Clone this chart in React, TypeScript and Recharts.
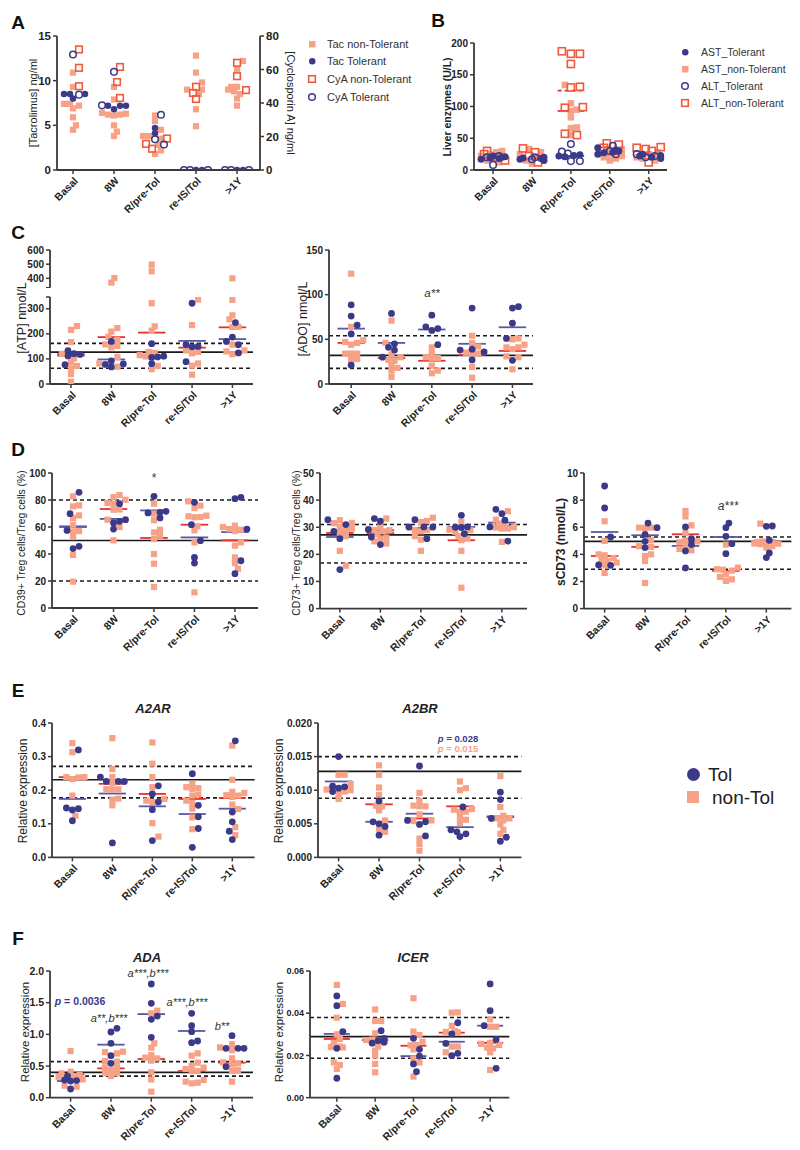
import React from 'react';
import { ScatterChart, Scatter, XAxis, YAxis, ReferenceLine } from 'recharts';

const CATS = ['Basal', '8W', 'R/pre-Tol', 're-IS/Tol', '>1Y'];

const NAVY = '#3b3a89';
const SALMON = '#f7a186';
const RED = '#e8302a';
const NAVY_LINE = '#5858a8';
const ORANGE = '#ef5a3d';
const AXIS = '#3a3a3a';
const INK = '#222';
const FONT = 'Arial, "Liberation Sans", Helvetica, sans-serif';

// ---- A: drug levels (Tac on left axis, CyA on right axis)
const aTacNonTol = [
  [10.9, 9.3, 7.4, 7.2, 7.4, 6.9, 5.9, 5.0, 4.5],
  [9.3, 7.9, 6.4, 6.2, 6.1, 6.2, 6.3, 5.0, 4.3, 3.8],
  [6.1, 5.5, 3.8, 3.8, 3.5, 4.5, 2.8, 2.2, 1.8],
  [12.8, 10.9, 9.8, 9.0, 9.0, 8.5, 6.8, 4.9],
  [12.2, 11.3, 9.3, 9.0, 8.8, 8.5, 8.0, 7.2, 9.3],
];
const aTacTol = [[8.5, 8.5, 8.0, 8.5], [6.8, 7.2, 7.2, 7.2], [4.1, 4.7], [0, 0], [0, 0]];
const aCyaNonTol = [[72, 61, 50], [61.5, 52.5, 43], [18.8, 12.7, 15.6], [49.7, 42.4, 46], [64, 56, 47.7]];
const aCyaTol = [[69, 45], [58.6, 38.6], [33, 15.2, 18.4], [0, 0, 0], [0, 0, 0]];

// ---- B: liver enzymes
const bAstTol = [[20, 18, 22, 19, 17, 21], [17, 18, 20, 15, 19], [24, 22, 21, 23], [30, 28, 25, 35, 32, 27], [25, 22, 20, 23, 18]];
const bAstNonTol = [
  [25, 28, 15, 22, 18, 12, 30, 20],
  [33, 28, 15, 10, 20, 25],
  [134, 105, 93, 83, 66, 67, 55, 95],
  [20, 25, 30, 22, 18, 15, 28, 33],
  [20, 15, 25, 28, 22, 18],
];
const bAltTol = [[8, 20, 22], [20, 17], [41, 29, 14, 14, 26], [38, 30, 25], [22, 20, 25]];
const bAltNonTol = [
  [30, 25, 15, 20],
  [28, 12, 22, 34],
  [187, 183, 183, 167, 131, 130, 98, 99, 55, 57],
  [40, 42, 30, 35],
  [35, 33, 36, 12, 30],
];
const bAstTolMid = [19, 18, 22, 27, 22];
const bAstNonTolMid = [18, 18, 93, 25, 22];
const bAltNonTolMid = [null, null, 125, null, null];

// ---- C: ATP / ADO
const atpTol = [[121, 112, 77, 118, 133], [170, 80, 78, 68, 92], [161, 81, 108, 106, 111], [322, 157, 148, 150, 89], [245, 187, 157, 170, 124]];
const atpNonTol = [
  [231, 216, 167, 120, 102, 86, 72, 61, 40, 9],
  [402, 370, 209, 223, 188, 176, 158, 152, 146, 108, 82, 69],
  [497, 450, 322, 230, 213, 124, 128, 115, 110, 72, 59],
  [337, 235, 134, 128, 122, 82, 73, 37],
  [400, 336, 274, 258, 228, 227, 157, 134, 130, 119],
];
const atpTolMid = [113, 98, 112, 172, 179];
const atpNonTolMid = [119, 187, 205, 145, 226];

const adoTol = [[88.6, 76, 66, 56, 21], [79, 45, 41, 38, 30], [77, 62, 60, 64, 44], [85, 38, 39, 36, 27], [86.6, 85, 68, 51, 26.5]];
const adoNonTol = [
  [123.5, 64, 49, 47, 44, 46, 34, 34, 34, 27, 28],
  [71, 46, 33, 30, 27, 26, 21, 18, 15, 8],
  [41, 35, 29, 29, 30, 20.5, 12, 15],
  [54, 46, 42, 35, 34, 19, 7, 33],
  [50, 51, 44, 39, 41, 41, 30, 31, 16.5],
];
const adoTolMid = [62, 46, 61, 45, 63.5];
const adoNonTolMid = [46, 29, 26, 32.5, 37];

// ---- D: CD39+, CD73+ Treg, sCD73
const d1Tol = [[85.7, 57.5, 69.9, 44, 45.7], [77.3, 64.2, 65.4, 58.5, 63], [82.7, 71.6, 70.9, 70.4, 66.7], [78.3, 61.7, 49.9, 37.5, 33.3], [81, 82, 58.5, 35, 25.4]];
const d1NonTol = [
  [82.7, 75.3, 76, 68.6, 66.7, 61.7, 56.8, 57, 52.6, 39.3, 19.5],
  [82.2, 83.7, 80.2, 77.3, 77.8, 72.8, 73, 65.4, 60, 50.1],
  [77.3, 69.9, 65, 58, 56, 53.6, 51.1, 40, 32.8, 15.6],
  [79, 75.8, 74, 67.9, 67.2, 67.4, 68.4, 57.5, 60.5, 48.6, 11.6],
  [60, 58.5, 58, 61, 57, 46.2, 48.6, 37.5, 33.3, 29.1],
];
const d1TolMid = [60.5, 66, 72.3, 52.3, 56.3];
const d1NonTolMid = [60, 73.3, 51.9, 61.7, 50.1];

const d2Tol = [[31, 32.8, 28.5, 25.8, 14.4], [33.2, 32.2, 29.2, 26.4, 23.6], [30.1, 32.8, 30.1, 30.1, 25.8], [34.4, 30.1, 29.9, 30, 27.6], [35, 36.6, 32.6, 30.1, 24.9]];
const d2NonTol = [
  [32.6, 31.6, 31.5, 29.5, 30.1, 28.9, 27.9, 26.7, 21.3, 15.8],
  [33.2, 28.9, 27.5, 29, 28.5, 25.8, 24, 24.8, 26.2, 29.9],
  [33.5, 32.3, 31.9, 28.9, 29, 28.5, 26.7, 25.4, 21.3],
  [31.9, 29.1, 26.7, 25.2, 28.3, 21.3, 7.7, 25.8, 28.9],
  [35.9, 32.8, 31.3, 29.9, 29.5, 30.3, 30, 24.6, 29.5],
];
const d2TolMid = [26.4, 28.9, 29.7, 30.1, 31.7];
const d2NonTolMid = [27.9, 27.9, 29.2, 25.2, 30.5];

const d3Tol = [[9.04, 7.42, 5.28, 3.19, 3.22], [6.31, 5.97, 5.48, 4.96, 4.5], [6.02, 5.16, 4.72, 4.25, 3.0], [6.31, 5.97, 5.33, 4.79, 4.05], [6.07, 6.09, 5.04, 4.1, 3.76]];
const d3NonTol = [
  [6.44, 4.99, 4.0, 3.93, 3.73, 3.6, 3.51, 3.4, 3.19, 2.63],
  [5.97, 5.95, 5.97, 5.04, 4.55, 4.6, 4.0, 3.88, 3.51, 1.89],
  [7.2, 6.8, 6.14, 5.58, 5.04, 4.96, 4.9, 4.67, 4.3, 4.4],
  [4.72, 3.02, 2.87, 2.9, 2.8, 2.33, 2.04, 2.16, 2.53],
  [6.27, 4.91, 4.79, 4.8, 4.75, 4.85, 4.95, 4.92, 4.5, 4.6],
];
const d3TolMid = [5.65, 5.41, 4.62, 5.28, 4.99];
const d3NonTolMid = [3.88, 4.55, 5.48, 2.78, 4.91];

// ---- E: A2AR / A2BR
const e1Tol = [[0.32, 0.145, 0.141, 0.147, 0.109], [0.239, 0.226, 0.226, 0.226, 0.043], [0.213, 0.189, 0.165, 0.142, 0.05], [0.249, 0.155, 0.121, 0.086, 0.03], [0.347, 0.135, 0.106, 0.078, 0.053]];
const e1NonTol = [
  [0.34, 0.313, 0.239, 0.238, 0.233, 0.239, 0.184, 0.124],
  [0.355, 0.263, 0.239, 0.221, 0.203, 0.202, 0.203, 0.172, 0.155, 0.175],
  [0.342, 0.279, 0.239, 0.209, 0.174, 0.169, 0.165, 0.102, 0.062],
  [0.219, 0.206, 0.204, 0.209, 0.184, 0.169, 0.162, 0.145, 0.119, 0.084, 0.187],
  [0.333, 0.231, 0.195, 0.192, 0.185, 0.184, 0.18, 0.144, 0.157, 0.09, 0.066],
];
const e1TolMid = [0.174, 0.19, 0.152, 0.129, 0.145];
const e1NonTolMid = [0.239, 0.219, 0.189, 0.174, 0.177];

const e2Tol = [[0.015, 0.0105, 0.0103, 0.0106, 0.0098], [0.0084, 0.0053, 0.0046, 0.005, 0.0033], [0.0136, 0.0053, 0.0055, 0.0049, 0.0032], [0.0075, 0.0038, 0.0031, 0.0035, 0.0041], [0.0097, 0.0086, 0.0058, 0.003, 0.0024]];
const e2NonTol = [
  [0.0123, 0.0123, 0.0109, 0.0101, 0.0098, 0.01, 0.0095, 0.0087],
  [0.0137, 0.0123, 0.0104, 0.0093, 0.007, 0.0055, 0.0042, 0.0038, 0.0076, 0.0077],
  [0.0096, 0.0084, 0.0076, 0.0077, 0.0076, 0.0064, 0.0054, 0.0055, 0.0028, 0.002, 0.001],
  [0.0113, 0.0103, 0.01, 0.0068, 0.0071, 0.0068, 0.006, 0.0056, 0.0051, 0.0072],
  [0.0121, 0.0075, 0.0062, 0.0058, 0.0055, 0.0058, 0.0049, 0.0035, 0.0041],
];
const e2TolMid = [0.0113, 0.0053, 0.0065, 0.0045, 0.0061];
const e2NonTolMid = [0.0103, 0.0079, 0.0058, 0.0076, 0.006];

// ---- F: ADA / ICER
const f1Tol = [[0.137, 0.263, 0.279, 0.342, 0.27], [1.095, 1.037, 0.858, 0.663, 0.542], [1.795, 1.489, 1.289, 1.237, 0.953], [1.332, 1.137, 1.042, 0.868, 0.895], [0.979, 0.779, 0.779, 0.779, 0.49]];
const f1NonTol = [
  [0.737, 0.384, 0.41, 0.342, 0.289, 0.19, 0.174, 0.33, 0.36],
  [0.7, 0.726, 0.72, 0.568, 0.58, 0.437, 0.479, 0.47, 0.384, 0.342, 0.39],
  [1.374, 1.332, 0.79, 0.858, 0.674, 0.632, 0.584, 0.4, 0.289, 0.095, 0.62],
  [0.7, 0.663, 0.553, 0.5, 0.453, 0.421, 0.474, 0.253, 0.226, 0.237, 0.279, 0.42],
  [0.795, 0.842, 0.526, 0.558, 0.621, 0.542, 0.426, 0.437, 0.253, 0.75],
];
const f1TolMid = [0.263, 0.837, 1.32, 1.053, 0.763];
const f1NonTolMid = [0.368, 0.463, 0.61, 0.421, 0.553];

const f2Tol = [[0.0482, 0.0436, 0.0313, 0.0234, 0.0092], [0.0317, 0.0281, 0.0262, 0.0258, 0.027], [0.0281, 0.0229, 0.0197, 0.016, 0.0123], [0.0355, 0.0302, 0.0257, 0.0199, 0.021], [0.0539, 0.0412, 0.0341, 0.0276, 0.0139]];
const f2NonTol = [
  [0.0534, 0.0444, 0.0379, 0.03, 0.0278, 0.0238, 0.0242, 0.024, 0.026, 0.0167, 0.0155, 0.0136],
  [0.0418, 0.0363, 0.0363, 0.0305, 0.0273, 0.0275, 0.0242, 0.0199, 0.0223, 0.016, 0.012],
  [0.0471, 0.0313, 0.0297, 0.0265, 0.025, 0.0248, 0.0229, 0.0186, 0.0167, 0.01],
  [0.0403, 0.0404, 0.034, 0.031, 0.0316, 0.0312, 0.0242, 0.0242, 0.0215],
  [0.0371, 0.0336, 0.0336, 0.025, 0.0234, 0.026, 0.0237, 0.0255, 0.0215, 0.0131],
];
const f2TolMid = [0.0302, 0.0273, 0.0197, 0.0265, 0.0341];
const f2NonTolMid = [0.0278, 0.0273, 0.0246, 0.0308, 0.026];

type Marker = 'dot' | 'square' | 'ring' | 'box';

interface SeriesDef {
  values: number[][];
  marker: Marker;
  color: string;
  size: number;
  axis?: 'l' | 'r';
  mid?: (number | null)[];
  midColor?: string;
  midDash?: string;
}

interface PanelDef {
  L: number;
  R: number;
  T: number;
  B: number;
  xDomain: [number, number];
  yDomain: [number, number];
  yTicks: number[];
  yFormat?: (v: number) => string;
  rDomain?: [number, number];
  rTicks?: number[];
  series: SeriesDef[];
  refs?: { y: number; dashed?: boolean }[];
  hideX?: boolean;
  tickFont?: number;
}

// beeswarm-like spread of each column so markers sit side by side
function layoutPoints(p: PanelDef) {
  const plotH = p.B - p.T;
  const unitPx = (p.R - p.L) / (p.xDomain[1] - p.xDomain[0]);
  const out: { x: number; y: number }[][] = p.series.map(() => []);
  for (let c = 0; c < CATS.length; c++) {
    const items: { si: number; v: number; py: number; r: number }[] = [];
    p.series.forEach((s, si) => {
      const dom = s.axis === 'r' && p.rDomain ? p.rDomain : p.yDomain;
      (s.values[c] || []).forEach((v) =>
        items.push({ si, v, py: ((v - dom[0]) / (dom[1] - dom[0])) * plotH, r: s.size / 2 })
      );
    });
    items.sort((a, b) => a.py - b.py);
    const placed: { px: number; py: number; r: number }[] = [];
    const step = 3;
    const maxOff = unitPx * 0.31;
    for (const it of items) {
      let best = 0;
      let bestGap = -Infinity;
      for (let k = 0; k < 40; k++) {
        const off = (k % 2 === 1 ? 1 : -1) * Math.ceil(k / 2) * step;
        if (Math.abs(off) > maxOff) break;
        let gap = Infinity;
        for (const q of placed) {
          const d = Math.hypot(q.px - off, q.py - it.py) - (q.r + it.r) * 0.8;
          if (d < gap) gap = d;
        }
        if (gap >= 0) {
          best = off;
          bestGap = gap;
          break;
        }
        if (gap > bestGap) {
          bestGap = gap;
          best = off;
        }
      }
      placed.push({ px: best, py: it.py, r: it.r });
      out[it.si].push({ x: c + best / unitPx, y: it.v });
    }
  }
  return out;
}

function makeShape(s: SeriesDef) {
  const h = s.size / 2;
  return (props: any) => {
    const { cx, cy } = props;
    if (cx == null || cy == null) return <g />;
    if (s.marker === 'dot') return <circle cx={cx} cy={cy} r={h} fill={s.color} />;
    if (s.marker === 'square') return <rect x={cx - h} y={cy - h} width={s.size} height={s.size} fill={s.color} />;
    if (s.marker === 'ring') return <circle cx={cx} cy={cy} r={h - 0.7} fill="none" stroke={s.color} strokeWidth={1.5} />;
    return <rect x={cx - h + 0.7} y={cy - h + 0.7} width={s.size - 1.4} height={s.size - 1.4} fill="none" stroke={s.color} strokeWidth={1.6} />;
  };
}

const XTick = (props: any) => {
  const { x, y, payload } = props;
  return (
    <text
      transform={`translate(${x + 3},${y + 3}) rotate(-45)`}
      textAnchor="end"
      dy="0.35em"
      fontSize={10.5}
      fontWeight={700}
      fill={INK}
      fontFamily={FONT}
    >
      {CATS[payload.value]}
    </text>
  );
};

function Panel({ p }: { p: PanelDef }) {
  const YW = 40;
  const RW = p.rDomain ? 30 : 0;
  const MT = 6;
  const MR = 4;
  const XH = p.hideX ? 0 : 60;
  const w = YW + (p.R - p.L) + RW + MR;
  const h = MT + (p.B - p.T) + XH;
  const pts = layoutPoints(p);
  const tickStyle = { fontSize: p.tickFont ?? 10.5, fontWeight: 700, fill: INK, fontFamily: FONT };
  const fmt = (v: number) => (p.yFormat ? p.yFormat(v) : String(v));
  const axisLine = { stroke: AXIS, strokeWidth: 1.8 };
  const tickLine = { stroke: AXIS, strokeWidth: 1.5 };
  return (
    <div style={{ position: 'absolute', left: p.L - YW, top: p.T - MT }}>
      <ScatterChart width={w} height={h} margin={{ top: MT, right: MR, bottom: 0, left: 0 }}>
        <XAxis
          type="number"
          dataKey="x"
          domain={p.xDomain}
          ticks={[0, 1, 2, 3, 4]}
          interval={0}
          allowDataOverflow
          hide={p.hideX}
          height={XH}
          axisLine={axisLine}
          tickLine={tickLine}
          tickSize={4}
          tick={<XTick />}
        />
        <YAxis
          yAxisId="l"
          type="number"
          dataKey="y"
          domain={p.yDomain}
          ticks={p.yTicks}
          interval={0}
          allowDataOverflow
          width={YW}
          axisLine={axisLine}
          tickLine={tickLine}
          tickSize={4}
          tick={tickStyle}
          tickFormatter={fmt}
        />
        {p.rDomain && (
          <YAxis
            yAxisId="r"
            orientation="right"
            type="number"
            dataKey="y"
            domain={p.rDomain}
            ticks={p.rTicks}
            interval={0}
            allowDataOverflow
            width={RW}
            axisLine={axisLine}
            tickLine={tickLine}
            tickSize={4}
            tick={tickStyle}
          />
        )}
        {(p.refs || []).map((r, i) => (
          <ReferenceLine
            key={'ref' + i}
            yAxisId="l"
            y={r.y}
            stroke="#1a1a1a"
            strokeWidth={1.6}
            strokeDasharray={r.dashed ? '4 3' : undefined}
          />
        ))}
        {p.series.map((s, si) => (
          <Scatter
            key={'s' + si}
            yAxisId={s.axis || 'l'}
            data={pts[si]}
            shape={makeShape(s)}
            isAnimationActive={false}
          />
        ))}
        {p.series.map((s, si) =>
          (s.mid || []).map((m, c) =>
            m == null ? null : (
              <ReferenceLine
                key={`m${si}-${c}`}
                yAxisId={s.axis || 'l'}
                segment={[
                  { x: c - 0.34, y: m },
                  { x: c + 0.34, y: m },
                ]}
                stroke={s.midColor}
                strokeWidth={1.8}
                strokeDasharray={s.midDash}
              />
            )
          )
        )}
      </ScatterChart>
    </div>
  );
}

const tol = (values: number[][], mid?: (number | null)[]): SeriesDef => ({
  values,
  marker: 'dot',
  color: NAVY,
  size: 6.8,
  mid,
  midColor: NAVY_LINE,
});
const nonTol = (values: number[][], mid?: (number | null)[]): SeriesDef => ({
  values,
  marker: 'square',
  color: SALMON,
  size: 6.2,
  mid,
  midColor: RED,
});

const ATP_BREAK_LO = 347;
const ATP_BREAK_HI = 334;

const PANELS: PanelDef[] = [
  {
    L: 57, R: 260, T: 36, B: 170, xDomain: [-0.39, 4.56],
    yDomain: [0, 15], yTicks: [0, 5, 10, 15], rDomain: [0, 80], rTicks: [0, 20, 40, 60, 80], tickFont: 11.5,
    series: [
      { values: aTacNonTol, marker: 'square', color: SALMON, size: 6.2 },
      { values: aCyaNonTol, marker: 'box', color: ORANGE, size: 8, axis: 'r' },
      { values: aTacTol, marker: 'dot', color: NAVY, size: 6.5 },
      { values: aCyaTol, marker: 'ring', color: NAVY, size: 8, axis: 'r' },
    ],
  },
  {
    L: 474, R: 667, T: 43, B: 170, xDomain: [-0.49, 4.47],
    yDomain: [0, 200], yTicks: [0, 50, 100, 150, 200], tickFont: 10,
    series: [
      { values: bAstNonTol, marker: 'square', color: SALMON, size: 6.5, mid: bAstNonTolMid, midColor: RED },
      { values: bAltNonTol, marker: 'box', color: ORANGE, size: 8.5, mid: bAltNonTolMid, midColor: RED, midDash: '4 3' },
      { values: bAstTol, marker: 'dot', color: NAVY, size: 7, mid: bAstTolMid, midColor: NAVY_LINE },
      { values: bAltTol, marker: 'ring', color: NAVY, size: 8 },
    ],
  },
  {
    L: 50, R: 253, T: 250, B: 287.7, xDomain: [-0.52, 4.51], hideX: true,
    yDomain: [ATP_BREAK_HI, 600], yTicks: [ATP_BREAK_HI, 400, 500, 600], tickFont: 10,
    yFormat: (v) => (v === ATP_BREAK_HI ? '' : String(v)),
    series: [
      nonTol(atpNonTol.map((g) => g.filter((v) => v > ATP_BREAK_LO))),
      tol(atpTol.map((g) => g.filter((v) => v > ATP_BREAK_LO))),
    ],
  },
  {
    L: 50, R: 253, T: 297.3, B: 384.3, xDomain: [-0.52, 4.51],
    yDomain: [0, ATP_BREAK_LO], yTicks: [0, 100, 200, 300, ATP_BREAK_LO], tickFont: 10,
    yFormat: (v) => (v === ATP_BREAK_LO ? '' : String(v)),
    refs: [{ y: 162, dashed: true }, { y: 63, dashed: true }, { y: 127 }],
    series: [
      nonTol(atpNonTol.map((g) => g.filter((v) => v <= ATP_BREAK_LO)), atpNonTolMid),
      tol(atpTol.map((g) => g.filter((v) => v <= ATP_BREAK_LO)), atpTolMid),
    ],
  },
  {
    L: 329, R: 533, T: 250, B: 384, xDomain: [-0.55, 4.51],
    yDomain: [0, 150], yTicks: [0, 50, 100, 150], tickFont: 10,
    refs: [{ y: 54, dashed: true }, { y: 17.5, dashed: true }, { y: 32 }],
    series: [nonTol(adoNonTol, adoNonTolMid), tol(adoTol, adoTolMid)],
  },
  {
    L: 52, R: 258, T: 473.3, B: 608.3, xDomain: [-0.52, 4.57],
    yDomain: [0, 100], yTicks: [0, 20, 40, 60, 80, 100], tickFont: 10,
    refs: [{ y: 80, dashed: true }, { y: 20, dashed: true }, { y: 50 }],
    series: [nonTol(d1NonTol, d1NonTolMid), tol(d1Tol, d1TolMid)],
  },
  {
    L: 320, R: 527, T: 472.7, B: 608.3, xDomain: [-0.49, 4.62],
    yDomain: [0, 50], yTicks: [0, 10, 20, 30, 40, 50], tickFont: 10,
    refs: [{ y: 31, dashed: true }, { y: 16.8, dashed: true }, { y: 27.2 }],
    series: [nonTol(d2NonTol, d2NonTolMid), tol(d2Tol, d2TolMid)],
  },
  {
    L: 584.3, R: 791.7, T: 472.7, B: 608.3, xDomain: [-0.51, 4.62],
    yDomain: [0, 10], yTicks: [0, 2, 4, 6, 8, 10], tickFont: 10,
    refs: [{ y: 5.28, dashed: true }, { y: 2.9, dashed: true }, { y: 4.96 }],
    series: [nonTol(d3NonTol, d3NonTolMid), tol(d3Tol, d3TolMid)],
  },
  {
    L: 52.3, R: 255, T: 723.3, B: 857.7, xDomain: [-0.51, 4.56],
    yDomain: [0, 0.4], yTicks: [0, 0.1, 0.2, 0.3, 0.4], tickFont: 10,
    yFormat: (v) => v.toFixed(1),
    refs: [{ y: 0.271, dashed: true }, { y: 0.177, dashed: true }, { y: 0.231 }],
    series: [nonTol(e1NonTol, e1NonTolMid), tol(e1Tol, e1TolMid)],
  },
  {
    L: 318.3, R: 521.7, T: 723.3, B: 857.7, xDomain: [-0.51, 4.52],
    yDomain: [0, 0.02], yTicks: [0, 0.005, 0.01, 0.015, 0.02], tickFont: 10,
    yFormat: (v) => v.toFixed(3),
    refs: [{ y: 0.015, dashed: true }, { y: 0.0088, dashed: true }, { y: 0.0128 }],
    series: [nonTol(e2NonTol, e2NonTolMid), tol(e2Tol, e2TolMid)],
  },
  {
    L: 50, R: 253, T: 971, B: 1097.7, xDomain: [-0.51, 4.52],
    yDomain: [0, 2], yTicks: [0, 0.5, 1, 1.5, 2], tickFont: 10.5,
    yFormat: (v) => v.toFixed(1),
    refs: [{ y: 0.57, dashed: true }, { y: 0.34, dashed: true }, { y: 0.4 }],
    series: [nonTol(f1NonTol, f1NonTolMid), tol(f1Tol, f1TolMid)],
  },
  {
    L: 310, R: 509.3, T: 971, B: 1097.7, xDomain: [-0.7, 4.5],
    yDomain: [0, 0.06], yTicks: [0, 0.02, 0.04, 0.06], tickFont: 9,
    yFormat: (v) => v.toFixed(2),
    refs: [{ y: 0.038, dashed: true }, { y: 0.0187, dashed: true }, { y: 0.0289 }],
    series: [nonTol(f2NonTol, f2NonTolMid), tol(f2Tol, f2TolMid)],
  },
];

function Txt({
  x, y, children, size = 11, weight = 400, italic = false, color = INK, rot = 0, anchor = 'center',
}: {
  x: number; y: number; children: React.ReactNode; size?: number; weight?: number; italic?: boolean;
  color?: string; rot?: number; anchor?: 'center' | 'left';
}) {
  const tx = anchor === 'center' ? '-50%' : '0';
  return (
    <div
      style={{
        position: 'absolute',
        left: x,
        top: y,
        transform: `translate(${tx},-50%) rotate(${rot}deg)`,
        whiteSpace: 'nowrap',
        fontSize: size,
        fontWeight: weight,
        fontStyle: italic ? 'italic' : 'normal',
        color,
        fontFamily: FONT,
        lineHeight: 1,
      }}
    >
      {children}
    </div>
  );
}

function LegendMark({ x, y, marker, color, size }: { x: number; y: number; marker: Marker; color: string; size: number }) {
  const h = size / 2;
  return (
    <svg style={{ position: 'absolute', left: x - h - 1, top: y - h - 1 }} width={size + 2} height={size + 2}>
      {marker === 'dot' && <circle cx={h + 1} cy={h + 1} r={h} fill={color} />}
      {marker === 'square' && <rect x={1} y={1} width={size} height={size} fill={color} />}
      {marker === 'ring' && <circle cx={h + 1} cy={h + 1} r={h - 0.7} fill="none" stroke={color} strokeWidth={1.5} />}
      {marker === 'box' && <rect x={1.7} y={1.7} width={size - 1.4} height={size - 1.4} fill="none" stroke={color} strokeWidth={1.6} />}
    </svg>
  );
}

const LEGEND_A = [
  { label: 'Tac non-Tolerant', marker: 'square' as Marker, color: SALMON, size: 6.5 },
  { label: 'Tac Tolerant', marker: 'dot' as Marker, color: NAVY, size: 6.5 },
  { label: 'CyA non-Tolerant', marker: 'box' as Marker, color: ORANGE, size: 8 },
  { label: 'CyA Tolerant', marker: 'ring' as Marker, color: NAVY, size: 8 },
];
const LEGEND_B = [
  { label: 'AST_Tolerant', marker: 'dot' as Marker, color: NAVY, size: 6.5 },
  { label: 'AST_non-Tolerant', marker: 'square' as Marker, color: SALMON, size: 6.5 },
  { label: 'ALT_Tolerant', marker: 'ring' as Marker, color: NAVY, size: 8 },
  { label: 'ALT_non-Tolerant', marker: 'box' as Marker, color: ORANGE, size: 8 },
];

export default function App() {
  const panelLetter = (t: string, x: number, y: number) => (
    <Txt x={x} y={y} size={19} weight={700} color="#111">{t}</Txt>
  );
  return (
    <div
      style={{
        position: 'absolute',
        left: 0,
        top: 0,
        width: 800,
        height: 1150,
        background: '#fff',
        overflow: 'hidden',
        fontFamily: FONT,
      }}
    >
      {PANELS.map((p, i) => (
        <Panel key={i} p={p} />
      ))}

      {panelLetter('A', 18, 22)}
      {panelLetter('B', 438, 20)}
      {panelLetter('C', 18, 232)}
      {panelLetter('D', 18, 449)}
      {panelLetter('E', 18, 690)}
      {panelLetter('F', 18, 938)}

      {/* axis titles */}
      <Txt x={33} y={103} rot={-90} size={11}>[Tacrolimus] ng/ml</Txt>
      <Txt x={290} y={103} rot={90} size={11}>[Cyclosporin A] ng/ml</Txt>
      <Txt x={447} y={107} rot={-90} size={10.5} weight={700}>Liver enzymes (U/L)</Txt>
      <Txt x={21.5} y={318} rot={-90} size={12.5}>[ATP] nmol/L</Txt>
      <Txt x={303} y={319} rot={-90} size={12.5}>[ADO] nmol/L</Txt>
      <Txt x={22} y={543} rot={-90} size={10.3}>CD39+ Treg cells/Treg cells (%)</Txt>
      <Txt x={297} y={543} rot={-90} size={10.3}>CD73+ Treg cells/Treg cells (%)</Txt>
      <Txt x={561} y={542} rot={-90} size={12} weight={700}>sCD73 (nmol/L)</Txt>
      <Txt x={23} y={791} rot={-90} size={12}>Relative expression</Txt>
      <Txt x={279} y={791} rot={-90} size={12}>Relative expression</Txt>
      <Txt x={26} y={1032} rot={-90} size={11.5}>Relative expression</Txt>
      <Txt x={280} y={1032} rot={-90} size={11.5}>Relative expression</Txt>

      {/* chart titles */}
      <Txt x={153} y={708} size={13} weight={700} italic>A2AR</Txt>
      <Txt x={420} y={708} size={13} weight={700} italic>A2BR</Txt>
      <Txt x={147} y={957} size={13} weight={700} italic>ADA</Txt>
      <Txt x={413} y={957} size={13} weight={700} italic>ICER</Txt>

      {/* significance marks */}
      <Txt x={432} y={294} size={11.5} italic color="#333">a**</Txt>
      <Txt x={154} y={478} size={12} color="#333">*</Txt>
      <Txt x={728} y={506} size={12} italic color="#333">a***</Txt>
      <Txt x={458} y={738.5} size={9.5} weight={700} color={NAVY}><i>p</i> = 0.028</Txt>
      <Txt x={458} y={748.5} size={9.5} weight={700} color={SALMON}><i>p</i> = 0.015</Txt>
      <Txt x={80} y={1001} size={10.5} weight={700} color={NAVY}><i>p</i> = 0.0036</Txt>
      <Txt x={109} y={1018} size={11} italic color="#333">a**,b***</Txt>
      <Txt x={148} y={973} size={11} italic color="#333">a***,b***</Txt>
      <Txt x={187} y={1002} size={11} italic color="#333">a***,b***</Txt>
      <Txt x={222} y={1026} size={11} italic color="#333">b**</Txt>

      {/* legends */}
      {LEGEND_A.map((l, i) => {
        const y = [44, 61, 79, 97][i];
        return (
          <React.Fragment key={'la' + i}>
            <LegendMark x={312} y={y} marker={l.marker} color={l.color} size={l.size} />
            <Txt x={327} y={y} size={11} anchor="left" color="#333">{l.label}</Txt>
          </React.Fragment>
        );
      })}
      {LEGEND_B.map((l, i) => {
        const y = [52, 69, 86, 103][i];
        return (
          <React.Fragment key={'lb' + i}>
            <LegendMark x={685} y={y} marker={l.marker} color={l.color} size={l.size} />
            <Txt x={701} y={y} size={10.5} anchor="left" color="#333">{l.label}</Txt>
          </React.Fragment>
        );
      })}
      <LegendMark x={693} y={774} marker="dot" color={NAVY} size={13} />
      <Txt x={708} y={774} size={19} anchor="left" color="#222">Tol</Txt>
      <LegendMark x={693} y={797} marker="square" color={SALMON} size={12} />
      <Txt x={712} y={797} size={19} anchor="left" color="#222">non-Tol</Txt>
    </div>
  );
}
